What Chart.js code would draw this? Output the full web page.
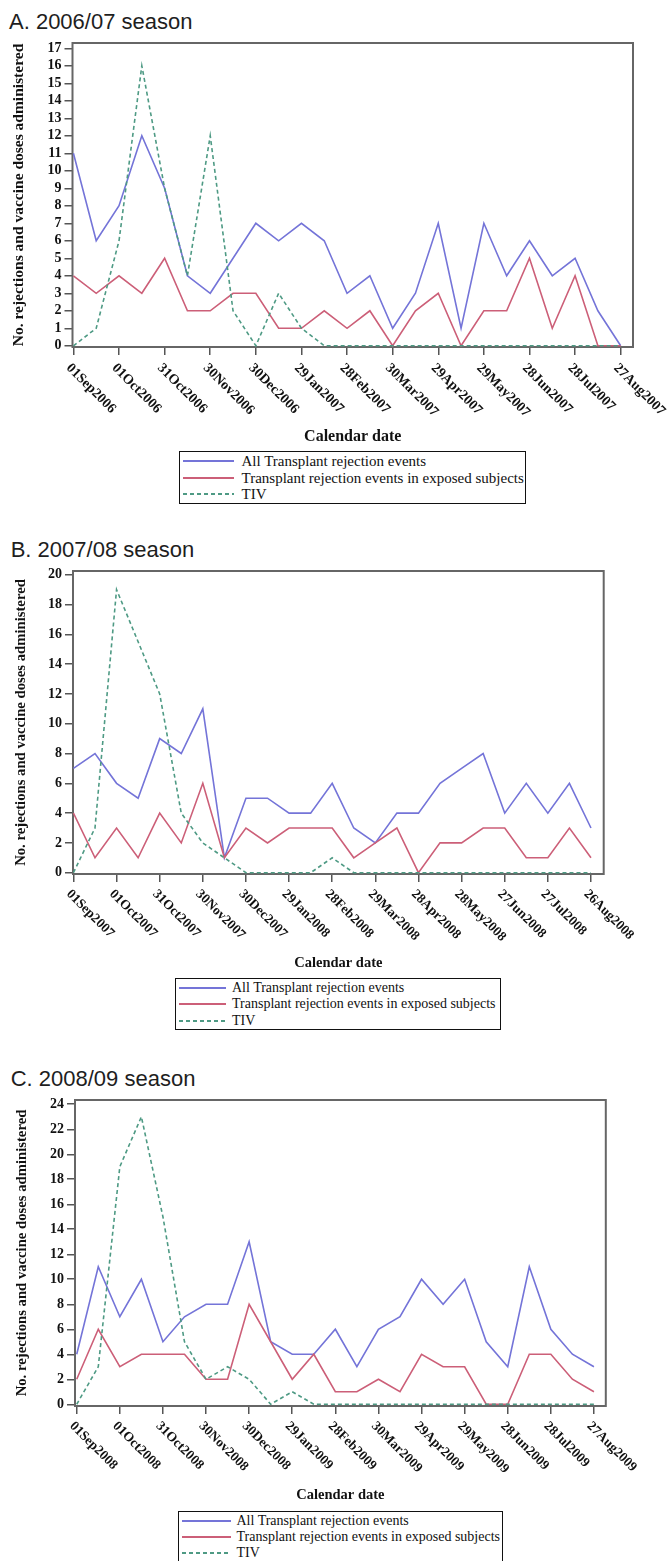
<!DOCTYPE html>
<html><head><meta charset="utf-8">
<script src="https://cdn.jsdelivr.net/npm/chart.js@4.4.1/dist/chart.umd.min.js"></script>
<style>
html,body{margin:0;padding:0;background:#fff;}
body{width:669px;height:1561px;position:relative;overflow:hidden;}
.ttl{position:absolute;font-family:'Liberation Sans',Arial,sans-serif;font-size:22px;line-height:22px;color:#1e1e1e;white-space:nowrap;}
canvas{position:absolute;left:0;}
.leg{position:absolute;border:1.5px solid #111;box-sizing:border-box;font-family:'Liberation Serif','Times New Roman',serif;color:#111;background:#fff;padding-top:1px;}
.leg .row{display:flex;align-items:center;white-space:nowrap;}
.leg svg{display:block;flex:none;}
</style></head><body>
<script>
// ---------------- data ----------------
const seriesNames = ['All Transplant rejection events', 'Transplant rejection events in exposed subjects', 'TIV'];
const panelTitles = ['A. 2006/07 season', 'B. 2007/08 season', 'C. 2008/09 season'];
const yAxisTitle = 'No. rejections and vaccine doses administered';
const xAxisTitle = 'Calendar date';

// half-month periods (index 0 = 01 Sep, every step ~15 days)
const periods = [0,1,2,3,4,5,6,7,8,9,10,11,12,13,14,15,16,17,18,19,20,21,22,23,24];
const xTickPositions = [0,2,4,6,8,10,12,14,16,18,20,22,24];

const xTickLabelsA = ['01Sep2006','01Oct2006','31Oct2006','30Nov2006','30Dec2006','29Jan2007','28Feb2007','30Mar2007','29Apr2007','29May2007','28Jun2007','28Jul2007','27Aug2007'];
const xTickLabelsB = ['01Sep2007','01Oct2007','31Oct2007','30Nov2007','30Dec2007','29Jan2008','28Feb2008','29Mar2008','28Apr2008','28May2008','27Jun2008','27Jul2008','26Aug2008'];
const xTickLabelsC = ['01Sep2008','01Oct2008','31Oct2008','30Nov2008','30Dec2008','29Jan2009','28Feb2009','30Mar2009','29Apr2009','29May2009','28Jun2009','28Jul2009','27Aug2009'];

const yTicksA = [0,1,2,3,4,5,6,7,8,9,10,11,12,13,14,15,16,17];
const yTicksB = [0,2,4,6,8,10,12,14,16,18,20];
const yTicksC = [0,2,4,6,8,10,12,14,16,18,20,22,24];

const allA     = [11,6,8,12,9,4,3,5,7,6,7,6,3,4,1,3,7,1,7,4,6,4,5,2,0];
const exposedA = [4,3,4,3,5,2,2,3,3,1,1,2,1,2,0,2,3,0,2,2,5,1,4,0,0];
const tivA     = [0,1,6,16,9,4,12,2,0,3,1,0,0,0,0,0,0,0,0,0,0,0,0,0,0];

const allB     = [7,8,6,5,9,8,11,1,5,5,4,4,6,3,2,4,4,6,7,8,4,6,4,6,3];
const exposedB = [4,1,3,1,4,2,6,1,3,2,3,3,3,1,2,3,0,2,2,3,3,1,1,3,1];
const tivB     = [0,3,19,15.5,12,4,2,1,0,0,0,0,1,0,0,0,0,0,0,0,0,0,0,0,0];

const allC     = [4,11,7,10,5,7,8,8,13,5,4,4,6,3,6,7,10,8,10,5,3,11,6,4,3];
const exposedC = [2,6,3,4,4,4,2,2,8,5,2,4,1,1,2,1,4,3,3,0,0,4,4,2,1];
const tivC     = [0,3,19,23,15,5,2,3,2,0,1,0,0,0,0,0,0,0,0,0,0,0,0,0,0];

// ---------------- styling / layout ----------------
const COLORS = ['#7474d8', '#cc5f78', '#4e9a84'];
const DASH = [4, 3];
const SERIF = "'Liberation Serif','Times New Roman',serif";

const layouts = [
  {title: panelTitles[0], tLeft: 9, tTop: 11.4, plotTop: 43, plotBottom: 347, left: 72.5, right: 633,
   ymin: -0.07, ymax: 17.3, xmin: -0.04, xmax: 24.54, tickFont: 14, xLabFont: 14, xTitleFont: 16, xTitlePad: 0.4,
   yTitleFont: 15.5, yTitlePad: 9.7, lab: {dx: -5, dy: 19},
   leg: {left: 179, top: 451, width: 347, font: 15, row: 16.6, sw: 51, sml: 2.5, gap: 8},
   labels: xTickLabelsA, yTicks: yTicksA, series: [allA, exposedA, tivA]},
  {title: panelTitles[1], tLeft: 10.7, tTop: 539.4, plotTop: 571, plotBottom: 874, left: 73, right: 603.7,
   ymin: -0.087, ymax: 20.25, xmin: -0.02, xmax: 24.59, tickFont: 14, xLabFont: 13.5, xTitleFont: 14.5, xTitlePad: 2.3,
   yTitleFont: 14.7, yTitlePad: 12.2, lab: {dx: -5, dy: 18},
   leg: {left: 175, top: 978, width: 326, font: 14, row: 16.3, sw: 47, sml: 2.5, gap: 6.5},
   labels: xTickLabelsB, yTicks: yTicksB, series: [allB, exposedB, tivB]},
  {title: panelTitles[2], tLeft: 10.7, tTop: 1068.4, plotTop: 1100, plotBottom: 1406, left: 75, right: 605.8,
   ymin: -0.14, ymax: 24.34, xmin: -0.08, xmax: 24.55, tickFont: 14, xLabFont: 13.5, xTitleFont: 14.5, xTitlePad: 2.3,
   yTitleFont: 14.7, yTitlePad: 13.2, lab: {dx: -5, dy: 18},
   leg: {left: 178, top: 1510.5, width: 325, font: 14, row: 16.4, sw: 49, sml: 2.5, gap: 6},
   labels: xTickLabelsC, yTicks: yTicksC, series: [allC, exposedC, tivC]}
];

const PAD_TOP = 14, X_H = 100;

const framePlugin = {
  id: 'frame',
  beforeDatasetsDraw(chart) {
    const {ctx, chartArea: a} = chart;
    ctx.save();
    ctx.strokeStyle = '#666';
    ctx.lineWidth = 2;
    ctx.strokeRect(a.left, a.top, a.right - a.left, a.bottom - a.top);
    ctx.restore();
  },
  afterDraw(chart, args, opts) {
    const ctx = chart.ctx, xs = chart.scales.x;
    ctx.save();
    ctx.font = 'bold ' + opts.fontSize + 'px ' + SERIF;
    ctx.fillStyle = '#111';
    ctx.textAlign = 'left';
    ctx.textBaseline = 'middle';
    opts.positions.forEach((v, i) => {
      const px = xs.getPixelForValue(v);
      ctx.save();
      ctx.translate(px + opts.dx, chart.chartArea.bottom + opts.dy);
      ctx.rotate(Math.PI / 4);
      ctx.fillText(opts.labels[i], 0, 0);
      ctx.restore();
    });
    ctx.restore();
  }
};

function toXY(arr) { return arr.map((v, i) => ({x: periods[i], y: v})); }

layouts.forEach((L, p) => {
  const t = document.createElement('div');
  t.className = 'ttl';
  t.style.left = L.tLeft + 'px';
  t.style.top = L.tTop + 'px';
  t.textContent = L.title;
  document.body.appendChild(t);

  const cv = document.createElement('canvas');
  const h = Math.round(PAD_TOP + (L.plotBottom - L.plotTop) + X_H);
  cv.width = 669; cv.height = h;
  cv.style.top = (L.plotTop - PAD_TOP) + 'px';
  cv.style.width = '669px'; cv.style.height = h + 'px';
  document.body.appendChild(cv);

  const datasets = L.series.map((s, k) => ({
    label: seriesNames[k],
    data: toXY(s),
    borderColor: COLORS[k],
    backgroundColor: COLORS[k],
    borderWidth: 1.6,
    borderDash: k === 2 ? DASH : [],
    pointRadius: 0,
    tension: 0,
    fill: false,
    order: 3 - k
  }));

  new Chart(cv, {
    type: 'line',
    data: {datasets},
    plugins: [framePlugin],
    options: {
      responsive: false,
      animation: false,
      events: [],
      layout: {padding: {top: PAD_TOP, left: 0, right: 669 - L.right, bottom: 0}},
      plugins: {
        legend: {display: false},
        tooltip: {enabled: false},
        frame: {positions: xTickPositions, labels: L.labels, fontSize: L.xLabFont, dx: L.lab.dx, dy: L.lab.dy}
      },
      scales: {
        x: {
          type: 'linear', min: L.xmin, max: L.xmax,
          afterBuildTicks: s => { s.ticks = xTickPositions.map(v => ({value: v})); },
          afterFit: s => { s.height = X_H; },
          ticks: {display: false, autoSkip: false},
          grid: {drawOnChartArea: false, drawTicks: true, tickLength: 8, color: '#555', lineWidth: 1.5},
          border: {display: false},
          title: {display: true, text: xAxisTitle, color: '#111',
                  font: {family: SERIF, size: L.xTitleFont, weight: 'bold'},
                  padding: {top: 0, bottom: L.xTitlePad}}
        },
        y: {
          type: 'linear', min: L.ymin, max: L.ymax,
          afterBuildTicks: s => { s.ticks = L.yTicks.map(v => ({value: v})); },
          afterFit: s => { s.width = L.left; },
          ticks: {color: '#111', padding: 3, autoSkip: false, font: {family: SERIF, size: L.tickFont, weight: 'bold'},
                  callback: v => String(v)},
          grid: {drawOnChartArea: false, drawTicks: true, tickLength: 8, color: '#555', lineWidth: 1.5},
          border: {display: false},
          title: {display: true, text: yAxisTitle, color: '#111',
                  font: {family: SERIF, size: L.yTitleFont, weight: 'bold'},
                  padding: {top: L.yTitlePad, bottom: 0}}
        }
      }
    }
  });

  const lg = document.createElement('div');
  lg.className = 'leg';
  lg.style.left = L.leg.left + 'px';
  lg.style.top = L.leg.top + 'px';
  lg.style.width = L.leg.width + 'px';
  lg.style.fontSize = L.leg.font + 'px';
  seriesNames.forEach((name, k) => {
    const row = document.createElement('div');
    row.className = 'row';
    row.style.height = L.leg.row + 'px';
    row.style.lineHeight = L.leg.row + 'px';
    const dash = k === 2 ? ' stroke-dasharray="' + DASH.join(' ') + '"' : '';
    row.innerHTML = '<svg width="' + L.leg.sw + '" height="6" style="margin-left:' + L.leg.sml + 'px;margin-right:' + L.leg.gap + 'px">' +
      '<line x1="0" y1="3" x2="' + L.leg.sw + '" y2="3" stroke="' + COLORS[k] + '" stroke-width="2"' + dash + '/></svg>';
    const sp = document.createElement('span');
    sp.textContent = name;
    row.appendChild(sp);
    lg.appendChild(row);
  });
  document.body.appendChild(lg);
});
</script>
</body></html>
